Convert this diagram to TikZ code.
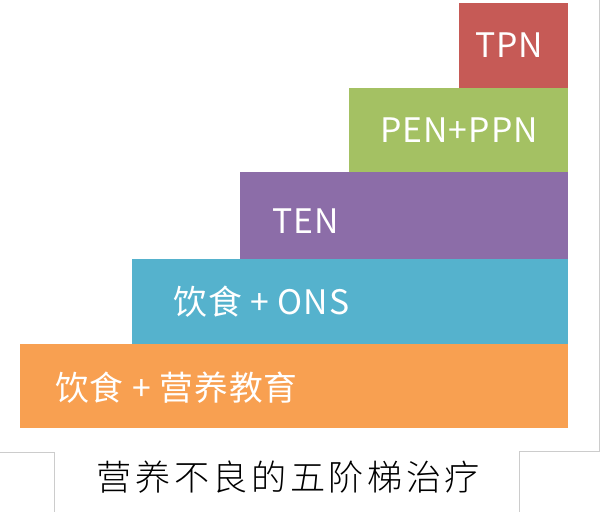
\documentclass[tikz,border=0pt]{standalone}
\usepackage{fontspec}
\usepackage{tikz}
\usetikzlibrary{positioning}
\newfontfamily\cjk[LetterSpace=3]{Noto Sans CJK SC}
\newfontfamily\cjktitle[LetterSpace=10]{Noto Sans CJK SC Light}
\definecolor{tpnred}{HTML}{C65A56}
\definecolor{pengreen}{HTML}{A4C163}
\definecolor{tenpurple}{HTML}{8C6DA8}
\definecolor{onsaqua}{HTML}{55B2CD}
\definecolor{dietorange}{HTML}{F8A051}
\definecolor{framegray}{HTML}{CCCCCC}

\begin{document}
\begin{tikzpicture}[
	stepbox/.style={anchor=north east, inner sep=0pt, outer sep=0pt},
	steplabel/.style={anchor=west, inner sep=0pt, text=white, font=\cjk\fontsize{24}{28}\selectfont},
	frameline/.style={draw=framegray, line width=0.6pt}]
	\useasboundingbox (0,0) rectangle (15,12.8);
	\draw[frameline] (0,1.5) -| (1.35,0);
	\draw[frameline] (12.975,0) |- (14.975,1.525) -- (14.975,12.8);
	\node[stepbox, fill=tpnred, minimum width=2.725cm, minimum height=2.125cm] (tpn) at (14.2,12.725) {};
	\node[stepbox, fill=pengreen, minimum width=5.475cm, minimum height=2.1cm] (pen) at (tpn.south east) {};
	\node[stepbox, fill=tenpurple, minimum width=8.2cm, minimum height=2.175cm] (ten) at (pen.south east) {};
	\node[stepbox, fill=onsaqua, minimum width=10.9cm, minimum height=2.125cm] (ons) at (ten.south east) {};
	\node[stepbox, fill=dietorange, minimum width=13.7cm, minimum height=2.1cm] (diet) at (ons.south east) {};
	\node[steplabel] (tpnlabel) at ([xshift=0.4cm]tpn.west) {TPN};
	\node[steplabel] (penlabel) at ([xshift=0.775cm]pen.west) {PEN+PPN};
	\node[steplabel] (tenlabel) at ([xshift=0.8cm,yshift=-0.15cm]ten.west) {TEN};
	\node[steplabel] (onslabel) at ([xshift=1.025cm]ons.west) {饮食 + ONS};
	\node[steplabel] (dietlabel) at ([xshift=0.875cm,yshift=-0.05cm]diet.west) {饮食 + 营养教育};
	\node[font=\cjktitle\fontsize{25}{30}\selectfont] (title) at (7.21,0.875) {营养不良的五阶梯治疗};
\end{tikzpicture}
\end{document}
